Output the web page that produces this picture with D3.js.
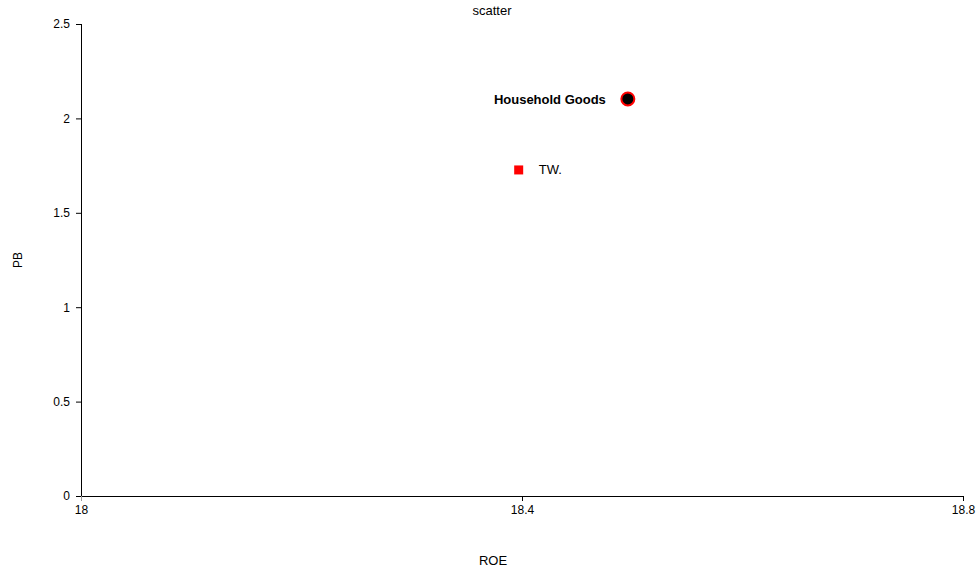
<!DOCTYPE html>
<html>
<head>
<meta charset="utf-8">
<script src="https://cdn.jsdelivr.net/npm/d3@7"></script>
<style>
  body { margin: 0; background: #fff; }
  text { font-family: "Liberation Sans", Arial, sans-serif; }
</style>
</head>
<body>
<svg id="chart" width="979" height="568"></svg>
<script>
// data
const names = ["Household Goods", "TW."];
const roe = [18.496, 18.397];
const pb = [2.103, 1.727];
const xTicks = [18, 18.4, 18.8];
const yTicks = [0, 0.5, 1, 1.5, 2, 2.5];

const svg = d3.select("#chart");
const mLeft = 81, mRight = 963, mTop = 24, mBottom = 496;

const x = d3.scaleLinear().domain([18, 18.8]).range([mLeft, mRight]);
const y = d3.scaleLinear().domain([0, 2.5]).range([mBottom, mTop]);

// axes
const xAxis = svg.append("g")
  .attr("transform", `translate(0,${mBottom})`)
  .call(d3.axisBottom(x).tickValues(xTicks).tickSize(5).tickPadding(4).tickFormat(d3.format("")));
const yAxis = svg.append("g")
  .attr("transform", `translate(${mLeft},0)`)
  .call(d3.axisLeft(y).tickValues(yTicks).tickSize(5).tickPadding(6).tickFormat(d3.format("")));

xAxis.select(".domain").attr("d", `M${mLeft},0.5H${mRight}`);
yAxis.select(".domain").attr("d", `M0.5,${mTop}V${mBottom}`);
[xAxis, yAxis].forEach(g => {
  g.select(".domain").attr("stroke", "#000");
  g.selectAll(".tick line").attr("stroke", "#000");
  g.selectAll(".tick text").attr("font-size", 12).attr("fill", "#000")
    .attr("font-family", "'Liberation Sans', Arial, sans-serif");
});
// first x tick sits under the y axis corner, drawn grey
xAxis.selectAll(".tick line").filter(d => d === 18).attr("stroke", "#999");

// titles
svg.append("text").attr("x", 492).attr("y", 15).attr("text-anchor", "middle")
  .attr("font-size", 13).text("scatter");
svg.append("text").attr("x", 493).attr("y", 565).attr("text-anchor", "middle")
  .attr("font-size", 13).text("ROE");
svg.append("text").attr("transform", "translate(22,260) rotate(-90)")
  .attr("text-anchor", "middle").attr("font-size", 12).text("PB");

// points
svg.append("circle")
  .attr("cx", x(roe[0])).attr("cy", y(pb[0])).attr("r", 6.5)
  .attr("fill", "#000").attr("stroke", "#f00").attr("stroke-width", 2);
svg.append("text")
  .attr("x", x(roe[0]) - 22).attr("y", y(pb[0])).attr("dy", "0.35em")
  .attr("text-anchor", "end").attr("font-size", 13).attr("font-weight", "bold")
  .text(names[0]);

svg.append("rect")
  .attr("x", x(roe[1]) - 4.5).attr("y", y(pb[1]) - 4.5)
  .attr("width", 9).attr("height", 9).attr("fill", "#f00");
svg.append("text")
  .attr("x", x(roe[1]) + 20).attr("y", y(pb[1])).attr("dy", "0.35em")
  .attr("font-size", 13).text(names[1]);
</script>
</body>
</html>
